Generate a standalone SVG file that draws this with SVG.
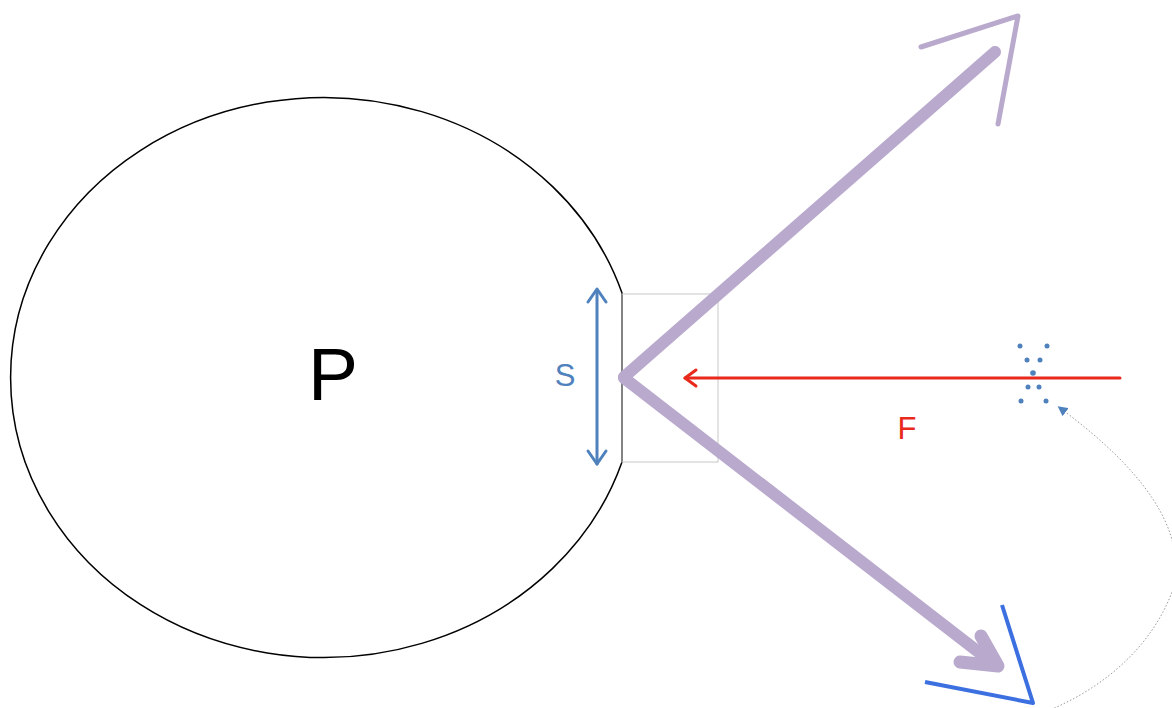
<svg xmlns="http://www.w3.org/2000/svg" width="1172" height="708" viewBox="0 0 1172 708">
<style>
.lbl{font-family:"Liberation Sans",Arial,sans-serif}
.pur{fill:none;stroke:#b8a9cd;stroke-linecap:round;stroke-linejoin:round}
.dot{fill:#4f81bd}
</style>
<defs>
<marker id="tri" viewBox="0 0 10 10" refX="2" refY="5" markerWidth="10" markerHeight="10" orient="auto-start-reverse" markerUnits="userSpaceOnUse">
<path d="M0,0 L10,5 L0,10 Z" fill="#4f81bd"/>
</marker>
</defs>
<rect width="1172" height="708" fill="#fff"/>
<g id="nodeP">
<path d="M622,293 A313,280 0 1 0 622,462 Z" fill="#fff" stroke="#000" stroke-width="1.5"/>
<text class="lbl" x="333" y="400" font-size="75" text-anchor="middle" fill="#000">P</text>
</g>
<g id="box">
<rect x="622" y="294" width="96" height="168" fill="none" stroke="#c8c8c8" stroke-width="1"/>
</g>
<g id="connectors">
<g stroke="#4f81bd" stroke-width="3" fill="none" stroke-linecap="round" stroke-linejoin="round">
<line x1="597" y1="290" x2="597" y2="464"/>
<polyline points="588,302 597,289 606,302"/>
<polyline points="588,451 597,464 606,451"/>
</g>
<line class="pur" x1="624" y1="377" x2="995" y2="52" stroke-width="12" stroke-linecap="butt"/>
<polyline class="pur" points="921,47 1018,16 998,124" stroke-width="5"/>
<line class="pur" x1="624" y1="378" x2="994" y2="664" stroke-width="12"/>
<polyline class="pur" points="981,636 998,666 960,662" stroke-width="13"/>
<polyline points="1002,605 1033,703 925,682" fill="none" stroke="#3c6fe0" stroke-width="4" stroke-linejoin="round"/>
<g stroke="#e8291c" stroke-width="3" fill="none" stroke-linecap="round" stroke-linejoin="round">
<line x1="1120" y1="378" x2="685" y2="378"/>
<polyline points="696,370 685,378 696,386"/>
</g>
<path d="M1064,411 C1140,468 1190,530 1172,592 C1150,650 1100,690 1045,712" fill="none" stroke="#999" stroke-width="1" stroke-dasharray="1.5,2" marker-start="url(#tri)"/>
</g>
<g id="dots">
<circle class="dot" cx="1020" cy="346" r="2.5"/>
<circle class="dot" cx="1047" cy="346" r="2.5"/>
<circle class="dot" cx="1027" cy="360" r="2.5"/>
<circle class="dot" cx="1040" cy="360" r="2.5"/>
<circle class="dot" cx="1033" cy="373" r="2.8"/>
<circle class="dot" cx="1028" cy="387" r="2.5"/>
<circle class="dot" cx="1039" cy="387" r="2.5"/>
<circle class="dot" cx="1021" cy="401" r="2.5"/>
<circle class="dot" cx="1046" cy="401" r="2.5"/>
</g>
<g id="labels">
<text class="lbl" x="565" y="386" font-size="31" text-anchor="middle" fill="#4f81bd">S</text>
<text class="lbl" x="907" y="439" font-size="31" text-anchor="middle" fill="#e8291c">F</text>
</g>
</svg>
